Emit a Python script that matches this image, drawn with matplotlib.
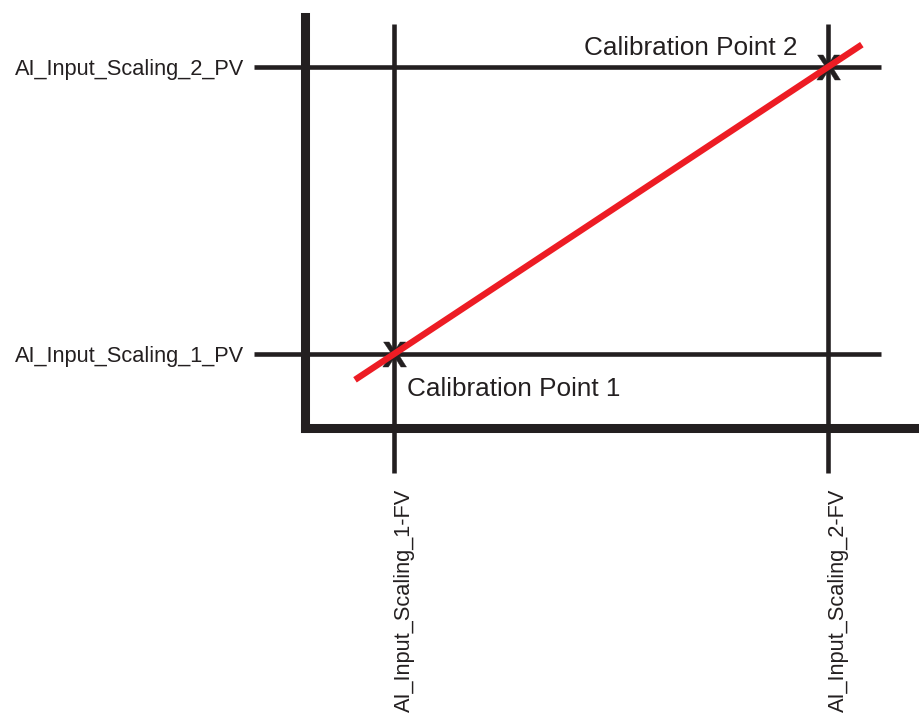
import matplotlib
matplotlib.use("Agg")
import matplotlib.pyplot as plt
from matplotlib.textpath import TextPath
from matplotlib.path import Path
from matplotlib.font_manager import FontProperties

# ---- data (normalised calibration values) ----
fv_labels = ["AI_Input_Scaling_1-FV", "AI_Input_Scaling_2-FV"]
pv_labels = ["AI_Input_Scaling_1_PV", "AI_Input_Scaling_2_PV"]
point_labels = ["Calibration Point 1", "Calibration Point 2"]
fv_values = [0.0, 1.0]
pv_values = [0.0, 1.0]

# ---- styling / layout ----
INK = "#231f20"
RED = "#ed1c24"
FONT = "Liberation Sans"
XLIM = (-0.2051, 1.2097)
YLIM = (-0.2578, 1.176)
H_EXTENT = (-0.3226, 1.1221)   # reach of horizontal guide lines
V_EXTENT = (-0.4146, 1.1498)   # reach of vertical guide lines
RED_EXTENT = (-0.0899, 1.078)  # reach of calibration line

plt.rcParams["font.family"] = [FONT, "DejaVu Sans"]

fig = plt.figure(figsize=(9.19, 7.20), dpi=100)
ax = fig.add_axes([305 / 919, (720 - 428) / 720, 1 - 305 / 919, (428 - 16.5) / 720])
ax.set_xlim(*XLIM)
ax.set_ylim(*YLIM)

for s in ("top", "right"):
    ax.spines[s].set_visible(False)
for s in ("left", "bottom"):
    ax.spines[s].set_linewidth(6.5)
    ax.spines[s].set_color(INK)
    ax.spines[s].set_capstyle("projecting")

# guide lines
for pv in pv_values:
    ax.plot(H_EXTENT, [pv, pv], color=INK, lw=3.3, solid_capstyle="butt",
            clip_on=False, zorder=2)
for fv in fv_values:
    ax.plot([fv, fv], V_EXTENT, color=INK, lw=3.3, solid_capstyle="butt",
            clip_on=False, zorder=2)

# calibration points (X glyphs), centred glyph path
tp = TextPath((0, 0), "X", prop=FontProperties(family=FONT, weight="bold"))
v = tp.vertices
cx = (v[:, 0].min() + v[:, 0].max()) / 2
cy = (v[:, 1].min() + v[:, 1].max()) / 2
xpath = Path(v - [cx, cy], tp.codes)
ax.plot(fv_values, pv_values, linestyle="none", marker=xpath, markersize=18,
        color=INK, markeredgewidth=0.3, zorder=3, clip_on=False)

# calibration line through the two points
slope = (pv_values[1] - pv_values[0]) / (fv_values[1] - fv_values[0])
rx = list(RED_EXTENT)
ry = [pv_values[0] + (x - fv_values[0]) * slope for x in rx]
ax.plot(rx, ry, color=RED, lw=4.6, solid_capstyle="butt", zorder=4, clip_on=False)

# point annotations
ax.annotate(point_labels[0], (fv_values[0], pv_values[0]), xytext=(9.4, -30.2),
            textcoords="offset points", ha="left", va="baseline",
            fontsize=18.8, color=INK, family=FONT)
ax.annotate(point_labels[1], (fv_values[1], pv_values[1]), xytext=(-21.6, 9.0),
            textcoords="offset points", ha="right", va="baseline",
            fontsize=18.8, color=INK, family=FONT)

# axis labels as ticks
ax.set_xticks(fv_values)
ax.set_xticklabels(fv_labels, rotation=90, ha="left", va="top",
                   fontsize=15.7, color=INK, family=FONT)
ax.set_yticks(pv_values)
ax.set_yticklabels(pv_labels, fontsize=15.7, color=INK, family=FONT)
ax.tick_params(axis="both", length=0, pad=44.0)

fig.savefig("out.png", dpi=100, facecolor="white")
